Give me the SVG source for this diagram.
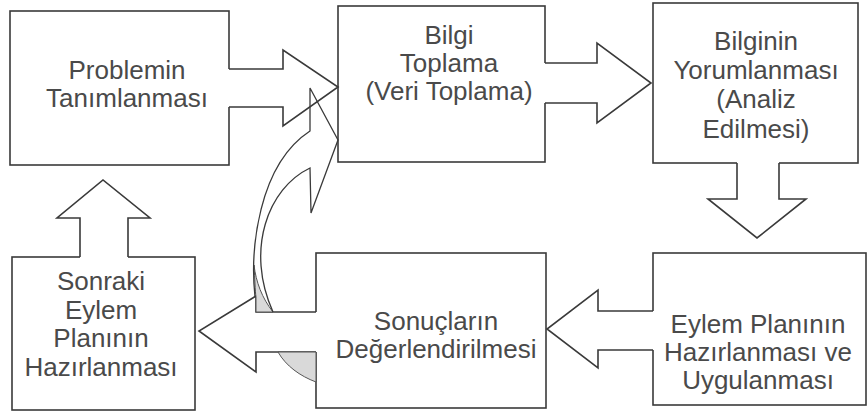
<svg xmlns="http://www.w3.org/2000/svg" width="868" height="414" viewBox="0 0 868 414">
<style>
.box{fill:#fff;stroke:#3a3a3a;stroke-width:1.6}
.t{font-family:"Liberation Sans",Arial,sans-serif;font-size:26px;fill:#4a4a4a;text-anchor:middle}
.af{fill:#fff;stroke:none}
.al{fill:none;stroke:#3a3a3a;stroke-width:1.6;stroke-linejoin:miter}
.cl{fill:none;stroke:#3a3a3a;stroke-width:1.3}
.sh{fill:#d9d9d9;stroke:#555;stroke-width:1}
</style>
<rect width="868" height="414" fill="#fff"/>
<g id="n1">
<rect class="box" x="10" y="11" width="219" height="154"/>
<text class="t" x="127" y="79">Problemin</text>
<text class="t" x="127" y="107">Tanımlanması</text>
</g>
<g id="n2">
<rect class="box" x="338" y="6" width="207" height="156"/>
<text class="t" x="449" y="44">Bilgi</text>
<text class="t" x="449" y="72">Toplama</text>
<text class="t" x="449" y="100">(Veri Toplama)</text>
</g>
<g id="n3">
<rect class="box" x="653" y="3" width="205" height="160"/>
<text class="t" x="756" y="50">Bilginin</text>
<text class="t" x="756" y="79">Yorumlanması</text>
<text class="t" x="756" y="108">(Analiz</text>
<text class="t" x="756" y="138">Edilmesi)</text>
</g>
<g id="n4">
<rect class="box" x="653" y="253" width="213" height="152"/>
<text class="t" x="758" y="333">Eylem Planının</text>
<text class="t" x="758" y="361">Hazırlanması ve</text>
<text class="t" x="758" y="389">Uygulanması</text>
</g>
<g id="n5">
<rect class="box" x="316" y="253" width="230" height="155"/>
<text class="t" x="436" y="330">Sonuçların</text>
<text class="t" x="436" y="358">Değerlendirilmesi</text>
</g>
<g id="n6">
<rect class="box" x="12" y="257" width="183" height="153"/>
<text class="t" x="101" y="290">Sonraki</text>
<text class="t" x="101" y="319">Eylem</text>
<text class="t" x="101" y="347">Planının</text>
<text class="t" x="101" y="376">Hazırlanması</text>
</g>
<g id="connectors">
<g id="e1">
<polygon class="af" points="227,69 283,69 283,50 337,87 283,126 283,107 227,107"/>
<polyline class="al" points="229,69 283,69 283,50 338,87 283,126 283,107 229,107"/>
</g>
<g id="e2">
<polygon class="af" points="543,63 597,63 597,43 650,83 597,123 597,103 543,103"/>
<polyline class="al" points="545,63 597,63 597,43 651,83 597,123 597,103 545,103"/>
</g>
<g id="e3">
<polygon class="af" points="737,161 737,199 708,199 757,238 806,199 779,199 779,161"/>
<polyline class="al" points="737,163 737,199 708,199 757,238 806,199 779,199 779,163"/>
</g>
<g id="e4">
<polygon class="af" points="655,311 598,311 598,290 548,329 598,368 598,350 655,350"/>
<polyline class="al" points="653,311 598,311 598,290 547,329 598,368 598,350 653,350"/>
</g>
<g id="e5">
<polygon class="af" points="318,312 256,312 256,296 200,331 256,372 256,352 318,352"/>
<polyline class="al" points="316,312 256,312 256,296 199,331 256,372 256,352 316,352"/>
</g>
<g id="e6">
<polygon class="af" points="80,259 80,218 57,218 103,181 150,218 128,218 128,259"/>
<polyline class="al" points="80,257 80,218 57,218 103,180 150,218 128,218 128,257"/>
</g>
<g id="e7">
<path class="sh" d="M254 265 C255 280 255 290 256 297 L256 312 L273 312 C262 298 256 282 254 265 Z"/>
<path class="sh" d="M278 352 L316 352 L316 382 C300 376 286 366 278 352 Z"/>
<path class="cl" d="M255 297 C250 250 258 165 310 131 L310 88 L338 140 L311 213 L310 168 C268 188 245 250 273 312"/>
</g>
</g>
</svg>
